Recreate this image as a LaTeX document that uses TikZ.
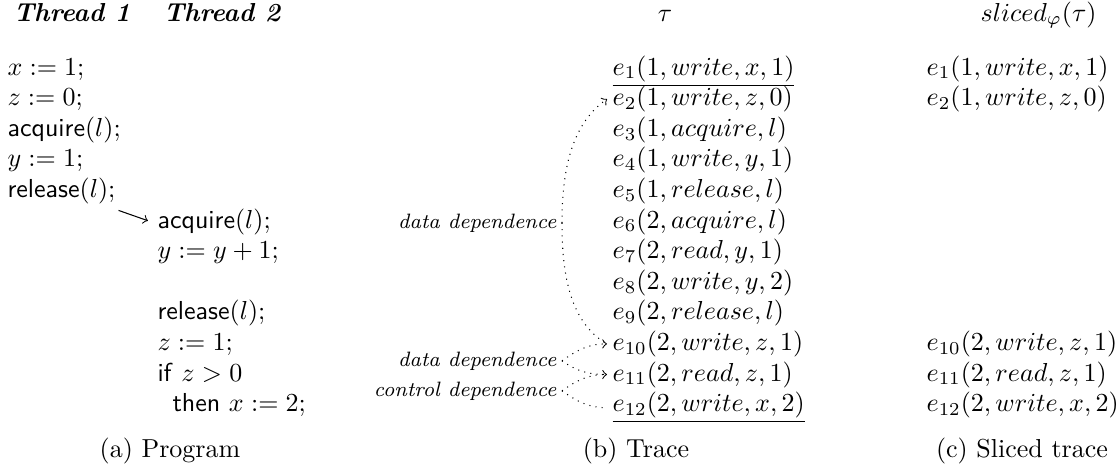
\documentclass[tikz,border=0pt]{standalone}
\begin{document}
\begin{tikzpicture}[x=0.3846pt,y=0.3846pt,
  code/.style={anchor=base west, inner sep=0pt},
  ev/.style={anchor=base west, inner sep=2pt},
  hd/.style={anchor=base, inner sep=0pt},
  lbl/.style={anchor=base east, inner sep=2pt, font=\footnotesize\itshape},
  dep/.style={dotted, line width=0.4pt}]
\useasboundingbox (0,0) rectangle (1119,-467);
% headers
\node[code] (h1) at (13,-21) {\textbf{\textit{Thread 1}}};
\node[code] (h2) at (163,-21) {\textbf{\textit{Thread 2}}};
\node[hd] (tau) at (665,-21) {$\tau$};
\node[hd, anchor=base east] (sl) at (1097,-21) {$sliced_{\varphi}(\tau)$};
% program, thread 1
\node[code] (p1) at (7,-75) {$x := 1;$};
\node[code] (p2) at (7,-105.6) {$z := 0;$};
\node[code] (p3) at (7,-136.2) {\textsf{acquire}$(l);$};
\node[code] (p4) at (7,-166.8) {$y := 1;$};
\node[code] (p5) at (7,-197.4) {\textsf{release}$(l);$};
% program, thread 2
\node[code] (q6) at (157,-228) {\textsf{acquire}$(l);$};
\node[code] (q7) at (157,-258.6) {$y := y + 1;$};
\node[code] (q9) at (157,-319.8) {\textsf{release}$(l);$};
\node[code] (q10) at (157,-350.4) {$z := 1;$};
\node[code] (q11) at (157,-381) {\textsf{if} $z > 0$};
\node[code] (q12) at (172,-411.6) {\textsf{then} $x := 2;$};
\draw[->] ([xshift=1pt,yshift=-2.3pt]p5.south east) -- ([xshift=-3.5pt,yshift=0.3pt]q6.west);
% trace
\node[ev] (e1) at (607,-75) {$\underline{e_1(1, write, x, 1)}$};
\node[ev] (e2) at (607,-105.6) {$e_2(1, write, z, 0)$};
\node[ev] (e3) at (607,-136.2) {$e_3(1, acquire, l)$};
\node[ev] (e4) at (607,-166.8) {$e_4(1, write, y, 1)$};
\node[ev] (e5) at (607,-197.4) {$e_5(1, release, l)$};
\node[ev] (e6) at (607,-228) {$e_6(2, acquire, l)$};
\node[ev] (e7) at (607,-258.6) {$e_7(2, read, y, 1)$};
\node[ev] (e8) at (607,-289.2) {$e_8(2, write, y, 2)$};
\node[ev] (e9) at (607,-319.8) {$e_9(2, release, l)$};
\node[ev] (e10) at (607,-350.4) {$e_{10}(2, write, z, 1)$};
\node[ev] (e11) at (607,-381) {$e_{11}(2, read, z, 1)$};
\node[ev] (e12) at (607,-411.6) {$\underline{e_{12}(2, write, x, 2)}$};
% sliced trace
\node[ev] (s1) at (921,-75) {$e_1(1, write, x, 1)$};
\node[ev] (s2) at (921,-105.6) {$e_2(1, write, z, 0)$};
\node[ev] (s10) at (921,-350.4) {$e_{10}(2, write, z, 1)$};
\node[ev] (s11) at (921,-381) {$e_{11}(2, read, z, 1)$};
\node[ev] (s12) at (921,-411.6) {$e_{12}(2, write, x, 2)$};
% dependence labels
\node[lbl] (dd1) at (562,-228) {data dependence};
\node[lbl] (dd2) at (562,-366) {data dependence};
\node[lbl] (cd) at (562,-396) {control dependence};
\draw[dep,->] (dd1.east) to[out=90,in=215,looseness=0.9] (e2.west);
\draw[dep] (dd1.east) to[out=-90,in=150,looseness=0.9] (e10.west);
\draw[dep,->] (dd2.east) to[out=35,in=180] (e10.west);
\draw[dep] (dd2.east) to[out=-35,in=180] (e11.west);
\draw[dep,->] (cd.east) to[out=35,in=180] (e11.west);
\draw[dep] (cd.east) to[out=-35,in=180] (e12.west);
% captions
\node[hd] (ca) at (170,-457) {(a) Program};
\node[hd] (cb) at (636,-457) {(b) Trace};
\node[hd] (cc) at (1022,-457) {(c) Sliced trace};
\end{tikzpicture}
\end{document}
